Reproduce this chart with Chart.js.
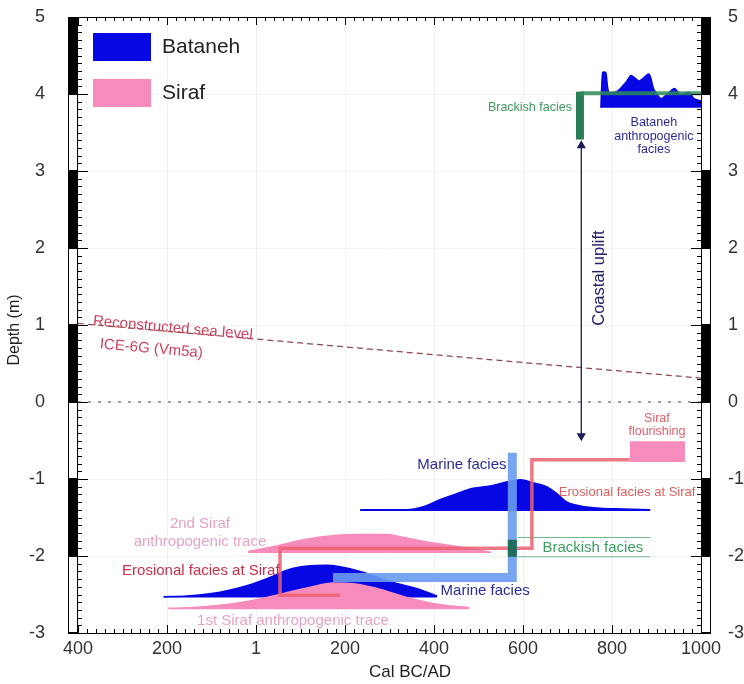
<!DOCTYPE html>
<html>
<head>
<meta charset="utf-8">
<script src="https://cdn.jsdelivr.net/npm/chart.js@4.4.1/dist/chart.umd.min.js"></script>
<style>
html, body { margin:0; padding:0; background:#fff; }
</style>
</head>
<body>
<canvas id="chart" width="744" height="684"></canvas>
<script>
// years: negative = BC ; depth in metres
var yearTicks = [-400, -200, 0, 200, 400, 600, 800, 1000];
var depthTicks = [-3, -2, -1, 0, 1, 2, 3, 4, 5];

// Bataneh anthropogenic facies (top right)
var anthroYears = [775, 779, 786, 793, 813, 831, 843, 861, 883, 894, 910, 925, 940, 955, 973, 984, 1000];
var anthroDepth = [3.82, 4.28, 4.28, 4.02, 4.04, 4.15, 4.24, 4.17, 4.26, 4.06, 3.94, 4.0, 4.07, 3.99, 4.02, 3.94, 3.91];
var anthroBase = 3.82;

// Bataneh marine distribution (upper)
var bat1Years = [234, 339, 376, 413, 451, 488, 526, 563, 594, 623, 653, 676, 699, 729, 773, 826, 886];
var bat1Depth = [-1.40, -1.40, -1.36, -1.27, -1.19, -1.12, -1.09, -1.04, -1.01, -1.05, -1.10, -1.19, -1.30, -1.35, -1.38, -1.39, -1.40];
var bat1Base = -1.415;

// Bataneh distribution (lower)
var bat2Years = [-208, -156, -81, -6, 31, 54, 84, 115, 160, 189, 234, 265, 294, 346, 380, 407];
var bat2Depth = [-2.53, -2.52, -2.47, -2.36, -2.28, -2.22, -2.16, -2.13, -2.12, -2.14, -2.20, -2.26, -2.32, -2.40, -2.46, -2.52];
var bat2Base = -2.54;

// 1st Siraf anthropogenic trace
var siraf1Years = [-197, -140, -81, -20, 31, 80, 120, 174, 219, 263, 300, 346, 400, 440, 479];
var siraf1Depth = [-2.68, -2.67, -2.64, -2.59, -2.53, -2.46, -2.41, -2.35, -2.36, -2.41, -2.47, -2.55, -2.62, -2.65, -2.67];
var siraf1Base = -2.69;

// 2nd Siraf anthropogenic trace
var siraf2Years = [-18, 20, 54, 106, 182, 230, 294, 323, 378, 454, 528];
var siraf2Depth = [-1.94, -1.90, -1.86, -1.79, -1.73, -1.72, -1.72, -1.75, -1.81, -1.88, -1.95];
var siraf2Base = -1.96;

// Siraf flourishing block
var flourishYears = [840, 964];
var flourishTop = [-0.52, -0.52];
var flourishBase = -0.78;

// erosional facies at Siraf (step line)
var erosYears = [840, 620, 620, 54, 54, 189];
var erosDepth = [-0.75, -0.75, -1.90, -1.90, -2.51, -2.51];

// marine facies (light blue path)
var marineYears = [173, 576, 576];
var marineDepth = [-2.28, -2.28, -0.66];

// brackish facies
var brackSqYears = [576, 576];
var brackSqDepth = [-1.79, -2.01];
var brackLineYears = [588, 886];
var brackUpper = [-1.76, -1.76];
var brackLower = [-2.01, -2.01];
var brackTopYears = [728, 1000];
var brackTopDepth = [4.01, 4.01];
var brackVertYears = [728, 728];
var brackVertDepth = [4.03, 3.41];

// coastal uplift arrow
var upliftYears = [731, 731];
var upliftDepth = [3.33, -0.44];

// reconstructed sea level ICE-6G and datum
var seaYears = [-400, 1000];
var seaDepth = [1.02, 0.31];
var zeroYears = [-400, 1000];
var zeroDepth = [0, 0];

var FONT = '"Liberation Sans", Arial, Helvetica, sans-serif';
var BLUE = '#0707e4';
var PINK = '#f78cbc';
var NAVY = '#2b2b9c';
var LPINK = '#e6a2c6';

function pts(xs, ys) {
	return xs.map(function(x, i) { return {x: x, y: ys[i]}; });
}
function area(xs, ys, base, color, order) {
	return {data: pts(xs, ys), showLine: true, fill: {value: base}, backgroundColor: color,
		borderColor: color, borderWidth: 1.5, pointRadius: 0, cubicInterpolationMode: 'monotone', order: order};
}
function path(xs, ys, color, width, order, dash) {
	return {data: pts(xs, ys), showLine: true, fill: false, borderColor: color, borderWidth: width,
		borderDash: dash || [], borderCapStyle: 'butt', borderJoinStyle: 'miter', pointRadius: 0, tension: 0, order: order};
}

var arrow = path(upliftYears, upliftDepth, '#1c1c55', 1.3, 0);
arrow.pointRadius = 4;
arrow.pointStyle = 'triangle';
arrow.pointRotation = [0, 180];
arrow.pointBackgroundColor = '#1c1c55';
arrow.pointBorderColor = '#1c1c55';

var datasets = [
	arrow,
	path(brackSqYears, brackSqDepth, '#1f6e5c', 9, 1),
	path(marineYears, marineDepth, 'rgba(105,155,240,0.9)', 9, 2),
	path(erosYears, erosDepth, 'rgba(236,96,112,0.85)', 3.5, 3),
	area(flourishYears, flourishTop, flourishBase, PINK, 4),
	area(siraf1Years, siraf1Depth, siraf1Base, PINK, 5),
	area(siraf2Years, siraf2Depth, siraf2Base, PINK, 6),
	area(bat2Years, bat2Depth, bat2Base, BLUE, 7),
	area(bat1Years, bat1Depth, bat1Base, BLUE, 8),
	path(brackLineYears, brackUpper, '#6fb585', 1, 9),
	path(brackLineYears, brackLower, '#6fb585', 1, 9),
	path(brackTopYears, brackTopDepth, 'rgba(46,139,87,0.85)', 4, 10),
	path(brackVertYears, brackVertDepth, '#2a7d55', 8, 10),
	area(anthroYears, anthroDepth, anthroBase, BLUE, 11),
	path(seaYears, seaDepth, '#8e4652', 1.2, 12, [6, 4]),
	path(zeroYears, zeroDepth, '#a0a0a0', 2, 13, [3, 7])
];
datasets[13].cubicInterpolationMode = 'default';
datasets[13].tension = 0.25;

var notes = [
	{text: 'Bataneh', x: 894, y: 3.63, color: NAVY, size: 12.5},
	{text: 'anthropogenic', x: 894, y: 3.45, color: NAVY, size: 12.5},
	{text: 'facies', x: 894, y: 3.28, color: NAVY, size: 12.5},
	{text: 'Brackish facies', x: 710, y: 3.82, color: '#3c9a5c', size: 12.5, align: 'right'},
	{text: 'Coastal uplift', x: 772, y: 1.61, color: '#222266', size: 16.5, rot: -90},
	{text: 'Siraf', x: 901, y: -0.21, color: '#e0606a', size: 12.5},
	{text: 'flourishing', x: 901, y: -0.39, color: '#e0606a', size: 12.5},
	{text: 'Marine facies', x: 563, y: -0.82, color: NAVY, size: 15, align: 'right'},
	{text: 'Erosional facies at Siraf', x: 834, y: -1.17, color: '#e06060', size: 13},
	{text: 'Brackish facies', x: 757, y: -1.90, color: '#3ca060', size: 15},
	{text: 'Marine facies', x: 515, y: -2.45, color: NAVY, size: 15},
	{text: '2nd Siraf', x: -126, y: -1.58, color: LPINK, size: 15},
	{text: 'anthropogenic trace', x: -126, y: -1.82, color: LPINK, size: 15},
	{text: 'Erosional facies at Siraf', x: -124, y: -2.19, color: '#c83048', size: 15},
	{text: '1st Siraf anthropogenic trace', x: 83, y: -2.84, color: LPINK, size: 15},
	{text: 'Reconstructed sea level', x: -366, y: 1.05, color: '#cf3f5a', size: 15, align: 'left', sea: true},
	{text: 'ICE-6G (Vm5a)', x: -351, y: 0.75, color: '#cf3f5a', size: 15, align: 'left', sea: true}
];

var decor = {
	id: 'decor',
	afterDatasetsDraw: function(chart) {
		var ctx = chart.ctx, xs = chart.scales.x, ys = chart.scales.y, a = chart.chartArea;
		ctx.save();
		ctx.strokeStyle = '#000';
		ctx.fillStyle = '#000';
		ctx.lineWidth = 1;
		// alternating depth bars on both sides
		for (var k = -3; k < 5; k++) {
			var t = Math.round(ys.getPixelForValue(k + 1)), b = Math.round(ys.getPixelForValue(k));
			[a.left - 10, a.right].forEach(function(x0) {
				x0 = Math.round(x0);
				if (k % 2 === 0) ctx.fillRect(x0, t, 10, b - t);
				else ctx.strokeRect(x0 + 0.5, t + 0.5, 9, b - t - 1);
			});
		}
		ctx.beginPath();
		// frame top / bottom
		ctx.moveTo(a.left - 10, Math.round(a.top) + 0.5); ctx.lineTo(a.right + 10, Math.round(a.top) + 0.5);
		ctx.moveTo(a.left - 10, Math.round(a.bottom) + 0.5); ctx.lineTo(a.right + 10, Math.round(a.bottom) + 0.5);
		// minor depth ticks
		for (var i = -30; i <= 50; i++) {
			var y = Math.round(ys.getPixelForValue(i / 10)) + 0.5;
			var len = (i % 10 === 0) ? 10 : 4;
			ctx.moveTo(a.left, y); ctx.lineTo(a.left + len, y);
			ctx.moveTo(a.right, y); ctx.lineTo(a.right - len, y);
		}
		// minor year ticks
		for (var yr = -400; yr <= 1000; yr += 20) {
			var x = Math.round(xs.getPixelForValue(yr)) + 0.5;
			var l2 = (yr % 200 === 0) ? 8 : 4;
			ctx.moveTo(x, a.top); ctx.lineTo(x, a.top + l2);
			ctx.moveTo(x, a.bottom); ctx.lineTo(x, a.bottom - l2);
		}
		ctx.stroke();
		ctx.restore();
	},
	afterDraw: function(chart) {
		var ctx = chart.ctx, xs = chart.scales.x, ys = chart.scales.y, a = chart.chartArea;
		var seaRot = Math.atan2(ys.getPixelForValue(seaDepth[1]) - ys.getPixelForValue(seaDepth[0]),
			xs.getPixelForValue(seaYears[1]) - xs.getPixelForValue(seaYears[0]));
		ctx.save();
		ctx.textBaseline = 'middle';
		notes.forEach(function(n) {
			ctx.save();
			ctx.translate(xs.getPixelForValue(n.x), ys.getPixelForValue(n.y));
			if (n.rot) ctx.rotate(n.rot * Math.PI / 180);
			if (n.sea) ctx.rotate(seaRot);
			ctx.font = n.size + 'px ' + FONT;
			ctx.fillStyle = n.color;
			ctx.textAlign = n.align || 'center';
			ctx.fillText(n.text, 0, 0);
			ctx.restore();
		});
		// legend
		ctx.textAlign = 'left';
		ctx.fillStyle = BLUE;
		ctx.fillRect(a.left + 15, a.top + 16, 58, 28);
		ctx.fillStyle = PINK;
		ctx.fillRect(a.left + 15, a.top + 62, 58, 28);
		ctx.fillStyle = '#222';
		ctx.font = '21px ' + FONT;
		ctx.fillText('Bataneh', a.left + 84, a.top + 30);
		ctx.fillText('Siraf', a.left + 84, a.top + 76);
		// axis titles
		ctx.font = '17px ' + FONT;
		ctx.textAlign = 'center';
		ctx.fillText('Cal BC/AD', 410, 672);
		ctx.save();
		ctx.translate(15, 330);
		ctx.rotate(-Math.PI / 2);
		ctx.font = '16px ' + FONT;
		ctx.fillText('Depth (m)', 0, 0);
		ctx.restore();
		ctx.restore();
	}
};

function fitY(w) {
	return function(s) { s.width = w; s.paddingTop = 0; s.paddingBottom = 0; };
}

var tickFont = {family: FONT, size: 18};
new Chart(document.getElementById('chart'), {
	type: 'scatter',
	data: {datasets: datasets},
	options: {
		responsive: false,
		animation: false,
		layout: {padding: {top: 17, left: 0, right: 0, bottom: 0}},
		plugins: {legend: {display: false}, tooltip: {enabled: false}},
		scales: {
			x: {
				type: 'linear', min: -400, max: 1000,
				afterFit: function(s) { s.height = 51; s.paddingLeft = 0; s.paddingRight = 0; },
				afterBuildTicks: function(s) { s.ticks = yearTicks.map(function(v) { return {value: v}; }); },
				ticks: {font: tickFont, color: '#333', padding: 5, maxRotation: 0,
					callback: function(v) { return v === 0 ? '1' : String(Math.abs(v)); }},
				grid: {color: 'rgba(0,0,0,0.05)', drawTicks: false},
				border: {display: false}
			},
			y: {
				type: 'linear', min: -3, max: 5,
				afterFit: fitY(78),
				afterBuildTicks: function(s) { s.ticks = depthTicks.map(function(v) { return {value: v}; }); },
				ticks: {font: tickFont, color: '#333', padding: 33},
				grid: {color: 'rgba(0,0,0,0.045)', drawTicks: false},
				border: {display: false}
			},
			y2: {
				type: 'linear', position: 'right', min: -3, max: 5,
				afterFit: fitY(43),
				afterBuildTicks: function(s) { s.ticks = depthTicks.map(function(v) { return {value: v}; }); },
				ticks: {font: tickFont, color: '#333', padding: 27},
				grid: {display: false, drawTicks: false},
				border: {display: false}
			}
		}
	},
	plugins: [decor]
});
</script>
</body>
</html>
